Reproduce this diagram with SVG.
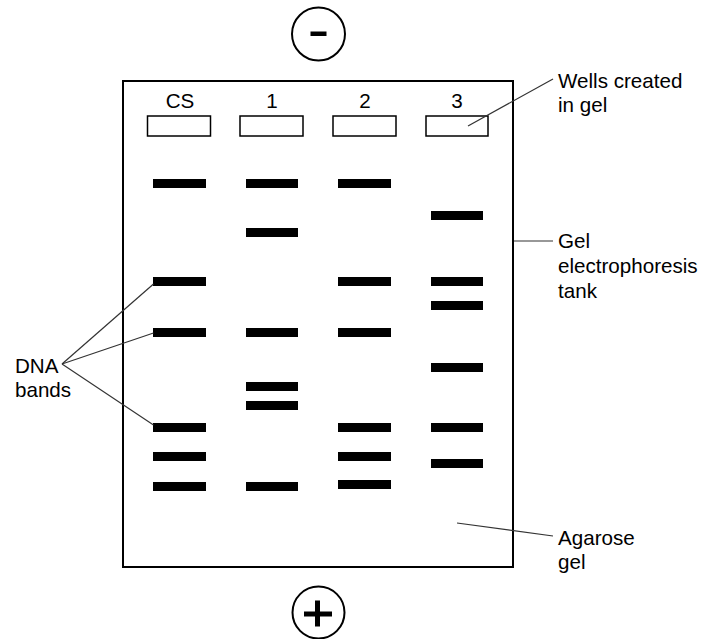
<svg xmlns="http://www.w3.org/2000/svg" width="701" height="639" viewBox="0 0 701 639">
<style>
.t{font-family:"Liberation Sans",Arial,sans-serif;font-size:20.6px;fill:#000}
.c{text-anchor:middle}
.well{fill:#fff;stroke:#000;stroke-width:1.5}
.band{fill:#000}
.lead{stroke:#333;stroke-width:1.2;fill:none}
</style>
<rect width="701" height="639" fill="#fff"/>
<g id="minus">
<circle cx="318.5" cy="34" r="26.5" fill="#fff" stroke="#000" stroke-width="2"/>
<rect x="310.5" y="31.5" width="16" height="4.5" fill="#000"/>
</g>
<g id="plus">
<circle cx="318.5" cy="612.5" r="26" fill="#fff" stroke="#000" stroke-width="2"/>
<rect x="304" y="611.5" width="28" height="5" fill="#000"/>
<rect x="315" y="600.5" width="5" height="26" fill="#000"/>
</g>
<g id="tank">
<rect x="123" y="81" width="390" height="486" fill="#fff" stroke="#000" stroke-width="2"/>
</g>
<g id="lane-labels">
<text class="t c" x="180" y="108">CS</text>
<text class="t c" x="272" y="108">1</text>
<text class="t c" x="365" y="108">2</text>
<text class="t c" x="457" y="108">3</text>
</g>
<g id="wells">
<rect class="well" x="147.5" y="116" width="63" height="20"/>
<rect class="well" x="240" y="116" width="63" height="20"/>
<rect class="well" x="333" y="116" width="63" height="20"/>
<rect class="well" x="426" y="116" width="62" height="20"/>
</g>
<g id="bands-cs">
<rect class="band" x="153" y="179" width="53" height="9"/>
<rect class="band" x="153" y="277" width="53" height="9"/>
<rect class="band" x="153" y="328" width="53" height="9"/>
<rect class="band" x="153" y="423" width="53" height="9"/>
<rect class="band" x="153" y="452" width="53" height="9"/>
<rect class="band" x="153" y="482" width="53" height="9"/>
</g>
<g id="bands-1">
<rect class="band" x="246" y="179" width="52" height="9"/>
<rect class="band" x="246" y="228" width="52" height="9"/>
<rect class="band" x="246" y="328" width="52" height="9"/>
<rect class="band" x="246" y="382" width="52" height="9"/>
<rect class="band" x="246" y="401" width="52" height="9"/>
<rect class="band" x="246" y="482" width="52" height="9"/>
</g>
<g id="bands-2">
<rect class="band" x="338" y="179" width="53" height="9"/>
<rect class="band" x="338" y="277" width="53" height="9"/>
<rect class="band" x="338" y="328" width="53" height="9"/>
<rect class="band" x="338" y="423" width="53" height="9"/>
<rect class="band" x="338" y="452" width="53" height="9"/>
<rect class="band" x="338" y="480" width="53" height="9"/>
</g>
<g id="bands-3">
<rect class="band" x="431" y="211" width="52" height="9"/>
<rect class="band" x="431" y="277" width="52" height="9"/>
<rect class="band" x="431" y="301" width="52" height="9"/>
<rect class="band" x="431" y="363" width="52" height="9"/>
<rect class="band" x="431" y="423" width="52" height="9"/>
<rect class="band" x="431" y="459" width="52" height="9"/>
</g>
<g id="connectors">
<line class="lead" x1="553" y1="79" x2="468" y2="126"/>
<line class="lead" x1="514" y1="241" x2="553" y2="241"/>
<line class="lead" x1="457" y1="523" x2="553" y2="536"/>
<line class="lead" x1="62" y1="364" x2="153.5" y2="284"/>
<line class="lead" x1="62" y1="364" x2="153.5" y2="333"/>
<line class="lead" x1="62" y1="364" x2="153.5" y2="425"/>
</g>
<g id="label-wells">
<text class="t" x="558" y="88">Wells created</text>
<text class="t" x="558" y="112">in gel</text>
</g>
<g id="label-tank">
<text class="t" x="558" y="248">Gel</text>
<text class="t" x="558" y="273">electrophoresis</text>
<text class="t" x="558" y="298">tank</text>
</g>
<g id="label-agarose">
<text class="t" x="558" y="545">Agarose</text>
<text class="t" x="558" y="569">gel</text>
</g>
<g id="label-dna">
<text class="t" x="15" y="373">DNA</text>
<text class="t" x="15" y="397">bands</text>
</g>
</svg>
